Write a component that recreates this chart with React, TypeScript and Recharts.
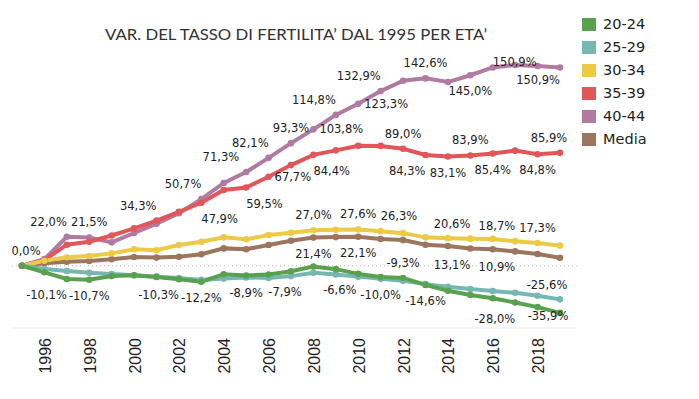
import { LineChart, Line, XAxis, YAxis, ReferenceLine, LabelList } from "recharts";

const years = [1995, 1996, 1997, 1998, 1999, 2000, 2001, 2002, 2003, 2004, 2005, 2006, 2007, 2008, 2009, 2010, 2011, 2012, 2013, 2014, 2015, 2016, 2017, 2018, 2019];
const tickYears = [1996, 1998, 2000, 2002, 2004, 2006, 2008, 2010, 2012, 2014, 2016, 2018];

// variazione % rispetto al 1995
const eta20_24 = [0, -5.0, -10.1, -10.7, -7.8, -7.2, -8.5, -10.3, -12.2, -6.5, -7.4, -6.7, -4.2, -0.6, -2.6, -6.2, -8.6, -9.3, -14.6, -19.0, -22.3, -24.8, -28.0, -31.5, -35.9];
const eta25_29 = [0, -2.5, -4.0, -5.3, -6.3, -7.3, -8.3, -9.4, -10.8, -9.8, -8.9, -9.3, -7.9, -5.3, -6.6, -8.3, -10.0, -11.4, -14.0, -16.0, -17.7, -19.3, -20.6, -22.8, -25.6];
const eta30_34 = [0, 3.8, 6.4, 7.4, 9.4, 12.5, 11.8, 15.8, 18.3, 21.6, 20.1, 23.4, 25.1, 27.0, 27.3, 27.6, 26.3, 24.8, 21.6, 21.0, 20.6, 20.4, 18.7, 17.3, 15.3];
const eta35_39 = [0, 4.3, 16.0, 18.3, 23.0, 28.4, 34.3, 41.0, 47.9, 57.6, 59.5, 67.7, 76.6, 84.4, 87.8, 91.3, 91.2, 89.0, 84.3, 83.1, 83.9, 85.4, 87.6, 84.8, 85.9];
const eta40_44 = [0, 5.0, 22.0, 21.5, 17.8, 24.9, 32.0, 40.0, 50.7, 63.0, 71.3, 82.1, 93.3, 103.8, 114.8, 123.3, 132.9, 140.8, 142.6, 139.8, 145.0, 150.9, 152.8, 152.0, 150.9];
const media = [0, 1.8, 3.0, 3.6, 4.9, 6.6, 6.2, 6.8, 8.7, 13.2, 12.5, 15.8, 19.0, 21.4, 21.8, 22.1, 20.3, 19.5, 16.0, 15.0, 13.1, 12.5, 10.9, 8.9, 6.1];

// anni con etichetta
const lab20_24 = [1997, 1998, 2002, 2003, 2012, 2013, 2017, 2019];
const lab25_29 = [2005, 2007, 2009, 2011, 2019];
const lab30_34 = [2008, 2010, 2011, 2015, 2017, 2018];
const lab35_39 = [2001, 2003, 2005, 2006, 2008, 2012, 2013, 2014, 2015, 2016, 2018, 2019];
const lab40_44 = [1997, 1998, 2003, 2005, 2006, 2007, 2008, 2009, 2010, 2011, 2013, 2015, 2016, 2019];
const labMedia = [1995, 2008, 2010, 2015, 2017];

type Place = [number, number, "start" | "middle" | "end"];
const P: Record<string, Place> = {
  a: [0, -15, "middle"],
  b: [0, 16, "middle"],
  al: [0, -15, "end"],
  ar: [0, -15, "start"],
  bl: [0, 16, "end"],
  br: [0, 16, "start"],
  r: [6, 0, "start"],
};

const place: Record<string, Record<number, Place>> = {
  "20-24": { 1997: P.bl, 1998: P.b, 2002: P.bl, 2003: P.b, 2012: P.a, 2013: P.b, 2017: P.bl, 2019: [-12, 3, "middle"] },
  "25-29": { 2005: P.b, 2007: [-6, 16, "middle"], 2009: [4, 16, "middle"], 2011: P.b, 2019: [-13, -14, "middle"] },
  "30-34": { 2008: P.a, 2010: P.a, 2011: P.ar, 2015: P.al, 2017: P.al, 2018: P.a },
  "35-39": { 2001: P.al, 2003: P.br, 2005: P.br, 2006: P.r, 2008: P.br, 2012: P.a, 2013: P.bl, 2014: P.b, 2015: P.a, 2016: P.b, 2018: P.b, 2019: [-11, -15, "middle"] },
  "40-44": { 1997: P.al, 1998: P.a, 2003: P.al, 2005: [-7, -15, "end"], 2006: P.al, 2007: P.a, 2008: P.r, 2009: P.al, 2010: P.r, 2011: P.al, 2013: P.a, 2015: P.b, 2016: [0, -5, "start"], 2019: [0, 13, "end"] },
  Media: { 1995: [4, -15, "middle"], 2008: P.b, 2010: P.b, 2015: P.bl, 2017: P.bl },
};

// ordine di disegno: Media sotto, 20-24 sopra
const series = [
  { key: "Media", color: "#9c755f", values: media, labels: labMedia },
  { key: "40-44", color: "#b07aa1", values: eta40_44, labels: lab40_44 },
  { key: "35-39", color: "#e15759", values: eta35_39, labels: lab35_39 },
  { key: "30-34", color: "#edc948", values: eta30_34, labels: lab30_34 },
  { key: "25-29", color: "#76b7b2", values: eta25_29, labels: lab25_29 },
  { key: "20-24", color: "#59a14f", values: eta20_24, labels: lab20_24 },
];
const legendOrder = ["20-24", "25-29", "30-34", "35-39", "40-44", "Media"];

const data = years.map((year, i) => {
  const row: Record<string, number> = { year };
  series.forEach((s) => (row[s.key] = s.values[i]));
  return row;
});

const fmt = (v: number) => v.toFixed(1).replace(".", ",") + "%";

function makeLabel(key: string, labels: number[], values: number[]) {
  return (props: any) => {
    const idx = props.index;
    const year = years[idx];
    if (!labels.includes(year)) return null;
    const x = props.x ?? props.viewBox?.x;
    const y = props.y ?? props.viewBox?.y;
    const pl = place[key][year] || P.a;
    return (
      <text
        x={x + pl[0]}
        y={y + pl[1]}
        textAnchor={pl[2]}
        dominantBaseline="central"
        fontFamily="DejaVu Sans"
        fontSize={11.5}
        fill="#222"
      >
        {fmt(values[idx])}
      </text>
    );
  };
}

const YearTick = (props: any) => {
  const { x, y, payload } = props;
  return (
    <text
      x={x + 1}
      y={y + 2}
      transform={`rotate(-90, ${x + 1}, ${y + 2})`}
      textAnchor="end"
      dominantBaseline="central"
      fontFamily="Liberation Sans"
      fontSize={16}
      fill="#222"
    >
      {payload.value}
    </text>
  );
};

export default function App() {
  return (
    <div style={{ position: "absolute", left: 0, top: 0, width: 699, height: 399, background: "#fff" }}>
      <svg width={699} height={60} style={{ position: "absolute", left: 0, top: 0 }}>
        <text
          x={296}
          y={33}
          textAnchor="middle"
          dominantBaseline="central"
          fontFamily="Lato"
          fontSize={16}
          fill="#333"
          textLength={382}
          lengthAdjust="spacingAndGlyphs"
        >
          VAR. DEL TASSO DI FERTILITA’ DAL 1995 PER ETA’
        </text>
      </svg>
      <div style={{ position: "absolute", left: 0, top: 0 }}>
        <LineChart width={699} height={399} data={data} margin={{ top: 14, right: 122, bottom: 0, left: 12 }}>
          <XAxis
            dataKey="year"
            type="number"
            domain={[1995, 2019]}
            ticks={tickYears}
            padding={{ left: 10, right: 17 }}
            height={71}
            tickLine={false}
            axisLine={{ stroke: "#ececec" }}
            tick={<YearTick />}
            interval={0}
          />
          <YAxis domain={[-47.4, 191.6]} width={0} tick={false} tickLine={false} axisLine={{ stroke: "#ececec" }} />
          <ReferenceLine y={0} stroke="#b5b5b5" strokeDasharray="1 3" />
          {series.map((s) => (
            <Line
              key={s.key}
              dataKey={s.key}
              stroke={s.color}
              strokeWidth={4}
              dot={{ r: 3.3, fill: s.color, stroke: "none" }}
              activeDot={false}
              isAnimationActive={false}
            >
              <LabelList dataKey={s.key} content={makeLabel(s.key, s.labels, s.values)} />
            </Line>
          ))}
        </LineChart>
      </div>
      <div style={{ position: "absolute", left: 582, top: 0 }}>
        {legendOrder.map((k, i) => {
          const s = series.find((x) => x.key === k)!;
          return (
            <div key={k} style={{ position: "absolute", left: 0, top: 24 + i * 23 - 9, height: 18, display: "flex", alignItems: "center", whiteSpace: "nowrap" }}>
              <div style={{ width: 14, height: 13, background: s.color }} />
              <span style={{ marginLeft: 7, fontFamily: "DejaVu Sans", fontSize: 14.5, color: "#222" }}>{k}</span>
            </div>
          );
        })}
      </div>
    </div>
  );
}
